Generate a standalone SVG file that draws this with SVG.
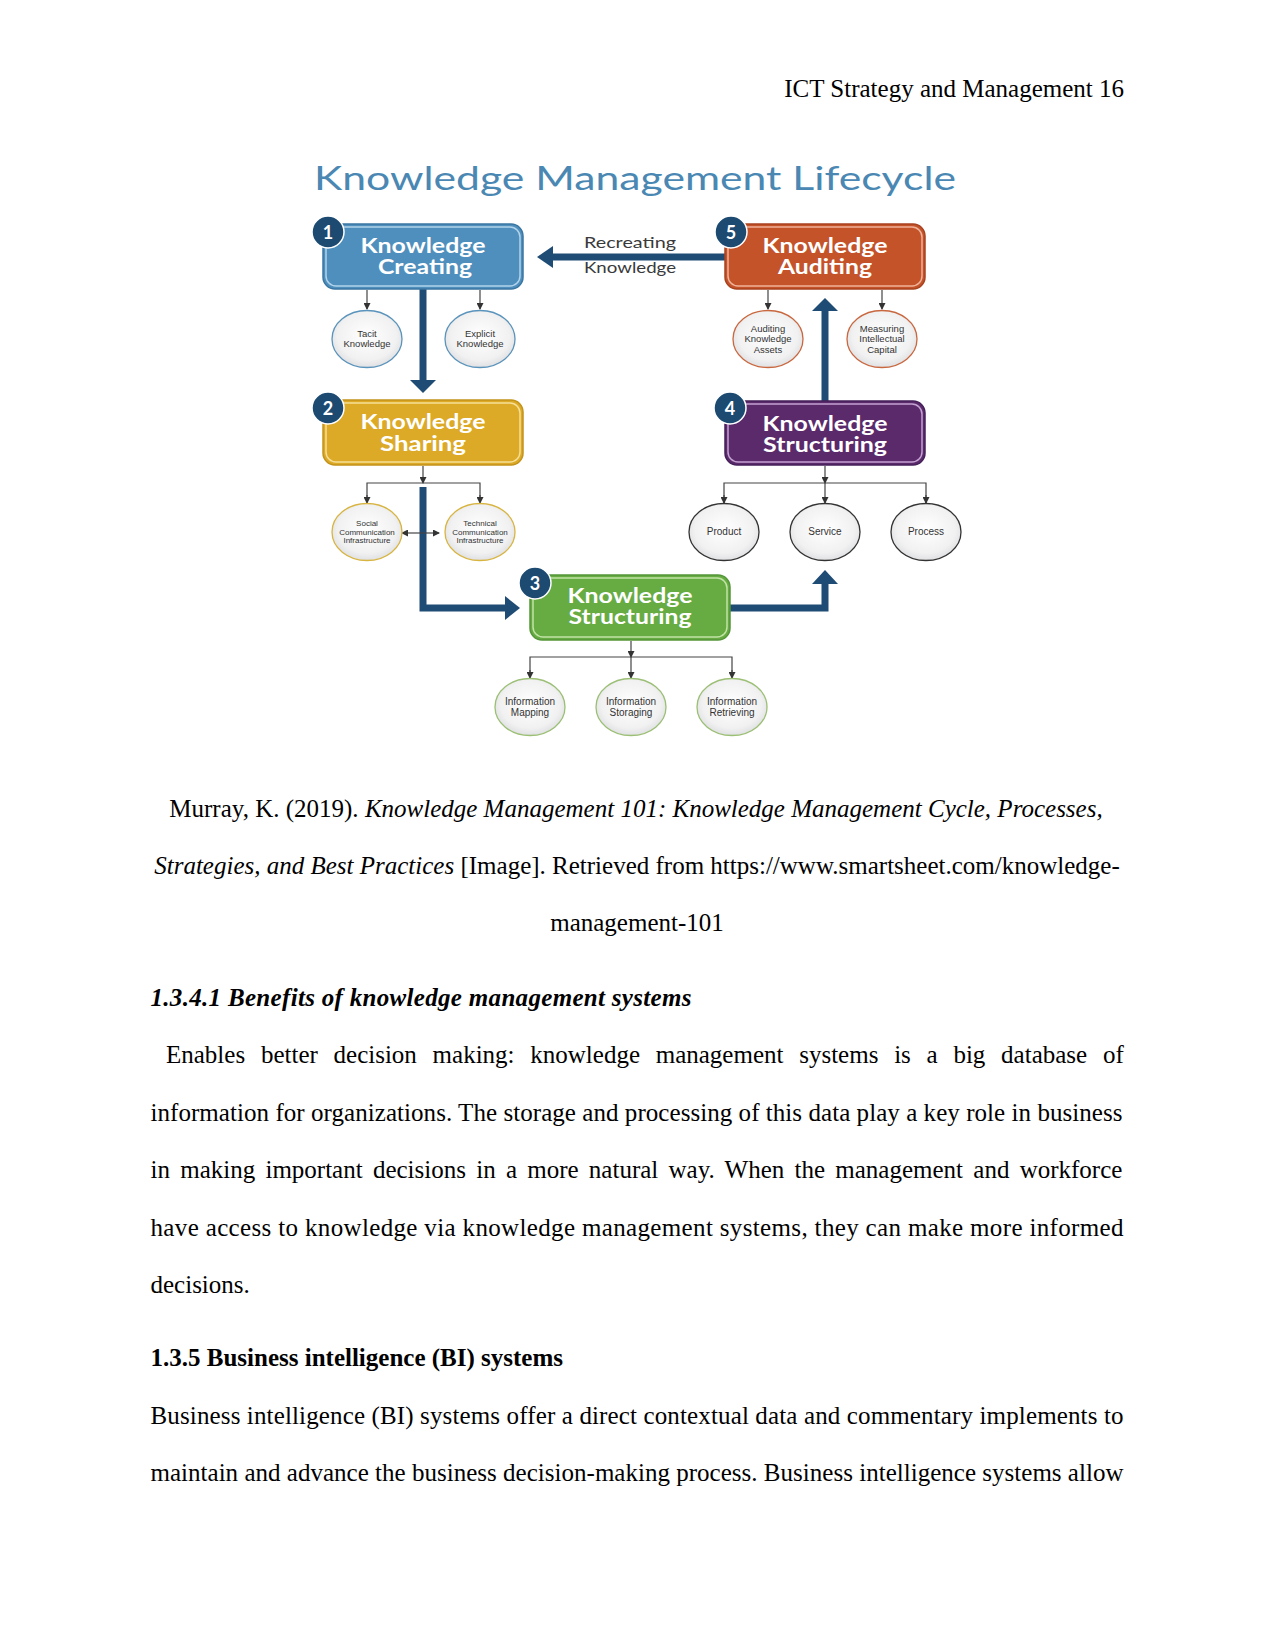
<svg xmlns="http://www.w3.org/2000/svg" width="1275" height="1651" viewBox="0 0 1275 1651">
<style>
.page{font-family:"Liberation Serif","Times New Roman",serif;font-size:25px;fill:#000}
.it{font-style:italic}
.bd{font-weight:bold}
.title{font-family:"Lato","Open Sans",sans-serif;font-size:33px;fill:#4a88b3}
.bt{font-family:"Lato","Open Sans",sans-serif;font-weight:bold;font-size:20px;fill:#fff;text-anchor:middle}
.badge{fill:#1d4a71;stroke:#fff;stroke-width:1.5}
.bn{font-family:"Lato","Open Sans",sans-serif;font-weight:bold;font-size:18px;fill:#fff;text-anchor:middle}
.et{font-family:"Liberation Sans",Arial,sans-serif;fill:#333;text-anchor:middle}
.lbl{font-family:"Lato","Open Sans",sans-serif;font-size:16px;fill:#3a3a3a;text-anchor:middle}
.thin{fill:none;stroke:#444;stroke-width:1.2}
.thick{fill:none;stroke:#1f4c75;stroke-width:7}
.head{fill:#1f4c75}
.inner{fill:none;stroke-width:1.5}
</style>
<defs>
<radialGradient id="eg" cx="50%" cy="45%" r="60%">
<stop offset="0%" stop-color="#ffffff"/>
<stop offset="70%" stop-color="#f1f1f2"/>
<stop offset="100%" stop-color="#d9dadc"/>
</radialGradient>
<marker id="ah" markerWidth="7" markerHeight="7" refX="6" refY="3.5" orient="auto" markerUnits="userSpaceOnUse">
<path d="M0,0 L7,3.5 L0,7 Z" fill="#333"/>
</marker>
<marker id="ahs" markerWidth="7" markerHeight="7" refX="1" refY="3.5" orient="auto-start-reverse" markerUnits="userSpaceOnUse">
<path d="M0,0 L7,3.5 L0,7 Z" fill="#333"/>
</marker>
</defs>
<rect width="1275" height="1651" fill="#fff"/>

<text class="page" x="1124" y="97" text-anchor="end">ICT Strategy and Management 16</text>

<text class="title" x="314" y="190" textLength="642" lengthAdjust="spacingAndGlyphs">Knowledge Management Lifecycle</text>

<g id="connectors">
<line class="thick" x1="725" y1="257" x2="550" y2="257"/>
<polygon class="head" points="537,257 553,246 553,268"/>
<line class="thick" x1="423" y1="289" x2="423" y2="381"/>
<polygon class="head" points="410,380 436,380 423,393"/>
<path class="thick" d="M423 487 V608 H507"/>
<polygon class="head" points="505,596 505,620 520,608"/>
<path class="thick" d="M730 608 H825 V582"/>
<polygon class="head" points="812,584 838,584 825,570"/>
<line class="thick" x1="825" y1="401" x2="825" y2="309"/>
<polygon class="head" points="812,311 838,311 825,298"/>
<line class="thin" x1="367" y1="290" x2="367" y2="309" marker-end="url(#ah)"/>
<line class="thin" x1="480" y1="290" x2="480" y2="309" marker-end="url(#ah)"/>
<line class="thin" x1="768" y1="290" x2="768" y2="309" marker-end="url(#ah)"/>
<line class="thin" x1="882" y1="290" x2="882" y2="309" marker-end="url(#ah)"/>
<line class="thin" x1="423" y1="466" x2="423" y2="483" marker-end="url(#ah)"/>
<path class="thin" d="M367 503 V483 H480 V503"/>
<line class="thin" x1="367" y1="495" x2="367" y2="503" marker-end="url(#ah)"/>
<line class="thin" x1="480" y1="495" x2="480" y2="503" marker-end="url(#ah)"/>
<line class="thin" x1="407" y1="533" x2="439" y2="533" marker-start="url(#ahs)" marker-end="url(#ah)"/>
<line class="thin" x1="825" y1="466" x2="825" y2="483" marker-end="url(#ah)"/>
<path class="thin" d="M724 503 V483 H926 V503"/>
<line class="thin" x1="724" y1="495" x2="724" y2="503" marker-end="url(#ah)"/>
<line class="thin" x1="825" y1="483" x2="825" y2="503" marker-end="url(#ah)"/>
<line class="thin" x1="926" y1="495" x2="926" y2="503" marker-end="url(#ah)"/>
<line class="thin" x1="631" y1="641" x2="631" y2="657" marker-end="url(#ah)"/>
<path class="thin" d="M530 678 V657 H732 V678"/>
<line class="thin" x1="530" y1="670" x2="530" y2="678" marker-end="url(#ah)"/>
<line class="thin" x1="631" y1="657" x2="631" y2="678" marker-end="url(#ah)"/>
<line class="thin" x1="732" y1="670" x2="732" y2="678" marker-end="url(#ah)"/>
<text class="lbl" x="630" y="248" textLength="92" lengthAdjust="spacingAndGlyphs">Recreating</text>
<text class="lbl" x="630" y="273" textLength="92" lengthAdjust="spacingAndGlyphs">Knowledge</text>
</g>

<g id="node1">
<rect x="323" y="224" width="200" height="65" rx="12" fill="#4f8fbd" stroke="#3b77a3" stroke-width="1.5"/>
<rect class="inner" x="326" y="227" width="194" height="59" rx="10" stroke="#b3d3ea"/>
<circle class="badge" cx="328" cy="232" r="16"/>
<text class="bn" x="328" y="239">1</text>
<text class="bt" x="423" y="253" textLength="125" lengthAdjust="spacingAndGlyphs">Knowledge</text>
<text class="bt" x="425" y="274" textLength="94" lengthAdjust="spacingAndGlyphs">Creating</text>
</g>

<g id="node5">
<rect x="725" y="224" width="200" height="65" rx="12" fill="#c4532a" stroke="#a8431f" stroke-width="1.5"/>
<rect class="inner" x="728" y="227" width="194" height="59" rx="10" stroke="#efb39a"/>
<circle class="badge" cx="731" cy="232" r="16"/>
<text class="bn" x="731" y="239">5</text>
<text class="bt" x="825" y="253" textLength="125" lengthAdjust="spacingAndGlyphs">Knowledge</text>
<text class="bt" x="825" y="274" textLength="94" lengthAdjust="spacingAndGlyphs">Auditing</text>
</g>

<g id="node2">
<rect x="323" y="400" width="200" height="65" rx="12" fill="#dcaa27" stroke="#c3931a" stroke-width="1.5"/>
<rect class="inner" x="326" y="403" width="194" height="59" rx="10" stroke="#f6df97"/>
<circle class="badge" cx="328" cy="408" r="16"/>
<text class="bn" x="328" y="415">2</text>
<text class="bt" x="423" y="429" textLength="125" lengthAdjust="spacingAndGlyphs">Knowledge</text>
<text class="bt" x="423" y="451" textLength="86" lengthAdjust="spacingAndGlyphs">Sharing</text>
</g>

<g id="node4">
<rect x="725" y="401" width="200" height="64" rx="12" fill="#5a2a6b" stroke="#46205a" stroke-width="1.5"/>
<rect class="inner" x="728" y="404" width="194" height="58" rx="10" stroke="#c5a3d3"/>
<circle class="badge" cx="730" cy="408" r="16"/>
<text class="bn" x="730" y="415">4</text>
<text class="bt" x="825" y="431" textLength="125" lengthAdjust="spacingAndGlyphs">Knowledge</text>
<text class="bt" x="825" y="452" textLength="124" lengthAdjust="spacingAndGlyphs">Structuring</text>
</g>

<g id="node3">
<rect x="530" y="575" width="200" height="65" rx="12" fill="#67ab43" stroke="#56963a" stroke-width="1.5"/>
<rect class="inner" x="533" y="578" width="194" height="59" rx="10" stroke="#c2e3a6"/>
<circle class="badge" cx="535" cy="583" r="16"/>
<text class="bn" x="535" y="590">3</text>
<text class="bt" x="630" y="603" textLength="125" lengthAdjust="spacingAndGlyphs">Knowledge</text>
<text class="bt" x="630" y="624" textLength="123" lengthAdjust="spacingAndGlyphs">Structuring</text>
</g>

<g id="tacit">
<ellipse cx="367" cy="339" rx="35" ry="28.5" fill="url(#eg)" stroke="#5a93bb" stroke-width="1.3"/>
<text class="et" x="367" y="337" font-size="9.5">Tacit</text>
<text class="et" x="367" y="347" font-size="9.5">Knowledge</text>
</g>
<g id="explicit">
<ellipse cx="480" cy="339" rx="35" ry="28.5" fill="url(#eg)" stroke="#5a93bb" stroke-width="1.3"/>
<text class="et" x="480" y="337" font-size="9.5">Explicit</text>
<text class="et" x="480" y="347" font-size="9.5">Knowledge</text>
</g>
<g id="auditing-assets">
<ellipse cx="768" cy="339" rx="35" ry="28.5" fill="url(#eg)" stroke="#c9673f" stroke-width="1.3"/>
<text class="et" x="768" y="332" font-size="9.5">Auditing</text>
<text class="et" x="768" y="342" font-size="9.5">Knowledge</text>
<text class="et" x="768" y="353" font-size="9.5">Assets</text>
</g>
<g id="measuring">
<ellipse cx="882" cy="339" rx="35" ry="28.5" fill="url(#eg)" stroke="#c9673f" stroke-width="1.3"/>
<text class="et" x="882" y="332" font-size="9.5">Measuring</text>
<text class="et" x="882" y="342" font-size="9.5">Intellectual</text>
<text class="et" x="882" y="353" font-size="9.5">Capital</text>
</g>
<g id="social">
<ellipse cx="367" cy="532" rx="35" ry="28.5" fill="url(#eg)" stroke="#d8b441" stroke-width="1.3"/>
<text class="et" x="367" y="526" font-size="8">Social</text>
<text class="et" x="367" y="535" font-size="8">Communication</text>
<text class="et" x="367" y="543" font-size="8">Infrastructure</text>
</g>
<g id="technical">
<ellipse cx="480" cy="532" rx="35" ry="28.5" fill="url(#eg)" stroke="#d8b441" stroke-width="1.3"/>
<text class="et" x="480" y="526" font-size="8">Technical</text>
<text class="et" x="480" y="535" font-size="8">Communication</text>
<text class="et" x="480" y="543" font-size="8">Infrastructure</text>
</g>
<g id="product">
<ellipse cx="724" cy="532" rx="35" ry="28.5" fill="url(#eg)" stroke="#333" stroke-width="1.3"/>
<text class="et" x="724" y="535" font-size="10">Product</text>
</g>
<g id="service">
<ellipse cx="825" cy="532" rx="35" ry="28.5" fill="url(#eg)" stroke="#333" stroke-width="1.3"/>
<text class="et" x="825" y="535" font-size="10">Service</text>
</g>
<g id="process">
<ellipse cx="926" cy="532" rx="35" ry="28.5" fill="url(#eg)" stroke="#333" stroke-width="1.3"/>
<text class="et" x="926" y="535" font-size="10">Process</text>
</g>
<g id="mapping">
<ellipse cx="530" cy="707" rx="35" ry="28.5" fill="url(#eg)" stroke="#9bbf74" stroke-width="1.3"/>
<text class="et" x="530" y="705" font-size="10">Information</text>
<text class="et" x="530" y="716" font-size="10">Mapping</text>
</g>
<g id="storaging">
<ellipse cx="631" cy="707" rx="35" ry="28.5" fill="url(#eg)" stroke="#9bbf74" stroke-width="1.3"/>
<text class="et" x="631" y="705" font-size="10">Information</text>
<text class="et" x="631" y="716" font-size="10">Storaging</text>
</g>
<g id="retrieving">
<ellipse cx="732" cy="707" rx="35" ry="28.5" fill="url(#eg)" stroke="#9bbf74" stroke-width="1.3"/>
<text class="et" x="732" y="705" font-size="10">Information</text>
<text class="et" x="732" y="716" font-size="10">Retrieving</text>
</g>

<text class="page" x="636" y="817" text-anchor="middle">Murray, K. (2019). <tspan class="it">Knowledge Management 101: Knowledge Management Cycle, Processes,</tspan></text>
<text class="page" x="637" y="874" text-anchor="middle"><tspan class="it">Strategies, and Best Practices</tspan> [Image]. Retrieved from https://www.smartsheet.com/knowledge-</text>
<text class="page" x="637" y="931" text-anchor="middle">management-101</text>

<text class="page it bd" x="150.5" y="1006" textLength="541" lengthAdjust="spacing">1.3.4.1 Benefits of knowledge management systems</text>

<text class="page" x="166" y="1063" word-spacing="9.5">Enables better decision making: knowledge management systems is a big database of</text>
<text class="page" x="150.5" y="1121" textLength="972" lengthAdjust="spacing">information for organizations. The storage and processing of this data play a key role in business</text>
<text class="page" x="150.5" y="1178" word-spacing="4">in making important decisions in a more natural way. When the management and workforce</text>
<text class="page" x="150.5" y="1236" textLength="973" lengthAdjust="spacing">have access to knowledge via knowledge management systems, they can make more informed</text>
<text class="page" x="150.5" y="1293">decisions.</text>

<text class="page bd" x="150.5" y="1366">1.3.5 Business intelligence (BI) systems</text>
<text class="page" x="150.5" y="1424" textLength="973" lengthAdjust="spacing">Business intelligence (BI) systems offer a direct contextual data and commentary implements to</text>
<text class="page" x="150.5" y="1481" textLength="973" lengthAdjust="spacing">maintain and advance the business decision-making process. Business intelligence systems allow</text>
</svg>
